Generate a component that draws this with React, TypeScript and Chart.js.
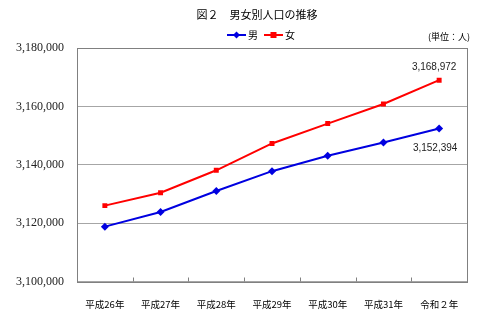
import React, { useEffect, useRef } from "react";
import { Chart, registerables } from "chart.js";

Chart.register(...registerables);

const categories = ["平成26年", "平成27年", "平成28年", "平成29年", "平成30年", "平成31年", "令和２年"];
const maleValues = [3118800, 3123800, 3131000, 3137800, 3143100, 3147600, 3152394];
const femaleValues = [3126000, 3130400, 3138100, 3147300, 3154100, 3160800, 3168972];
const seriesNames = ["男", "女"];
const yMin = 3100000;
const yMax = 3180000;
const yStep = 20000;
const titleText = "図２　男女別人口の推移";
const unitText = "(単位：人)";

const MALE_COLOR = "#0000E0";
const FEMALE_COLOR = "#FF0000";
const JP_FONT = "'Noto Sans CJK JP', sans-serif";

const decorPlugin = {
  id: "decor",
  afterDraw(chart: any) {
    const ctx = chart.ctx;
    const ca = chart.chartArea;
    ctx.save();
    // plot border
    ctx.strokeStyle = "#808080";
    ctx.lineWidth = 1;
    ctx.strokeRect(Math.round(ca.left) + 0.5, Math.round(ca.top) + 0.5, Math.round(ca.right - ca.left), Math.round(ca.bottom - ca.top));
    // inner tick marks between categories
    const n = categories.length;
    const w = (ca.right - ca.left) / n;
    ctx.beginPath();
    for (let i = 1; i < n; i++) {
      const x = Math.round(ca.left + i * w) + 0.5;
      ctx.moveTo(x, ca.bottom - 4);
      ctx.lineTo(x, ca.bottom);
    }
    ctx.stroke();

    // title
    ctx.fillStyle = "#000";
    ctx.textAlign = "center";
    ctx.textBaseline = "middle";
    ctx.font = `11px ${JP_FONT}`;
    ctx.fillText(titleText, 257, 15);

    // legend
    const items = [
      { name: seriesNames[0], color: MALE_COLOR, style: "diamond", x: 227 },
      { name: seriesNames[1], color: FEMALE_COLOR, style: "square", x: 264 },
    ];
    const ly = 35;
    items.forEach((it) => {
      ctx.strokeStyle = it.color;
      ctx.fillStyle = it.color;
      ctx.lineWidth = 2;
      ctx.beginPath();
      ctx.moveTo(it.x, ly);
      ctx.lineTo(it.x + 19, ly);
      ctx.stroke();
      const cx = it.x + 9.5;
      ctx.beginPath();
      if (it.style === "diamond") {
        ctx.moveTo(cx, ly - 3.5);
        ctx.lineTo(cx + 3.5, ly);
        ctx.lineTo(cx, ly + 3.5);
        ctx.lineTo(cx - 3.5, ly);
        ctx.closePath();
      } else {
        ctx.rect(cx - 3, ly - 3, 6, 6);
      }
      ctx.fill();
      ctx.fillStyle = "#000";
      ctx.font = `10px ${JP_FONT}`;
      ctx.textAlign = "left";
      ctx.fillText(it.name, it.x + 21, ly);
    });

    // unit
    ctx.font = `9px ${JP_FONT}`;
    ctx.textAlign = "right";
    ctx.fillStyle = "#000";
    ctx.fillText(unitText, 470, 37);

    // data labels on last points
    ctx.font = "10px 'Liberation Sans', Arial, sans-serif";
    ctx.textAlign = "center";
    ctx.fillStyle = "#222";
    const last = categories.length - 1;
    const fMeta = chart.getDatasetMeta(1);
    const mMeta = chart.getDatasetMeta(0);
    const fp = fMeta.data[last];
    const mp = mMeta.data[last];
    ctx.fillText(femaleValues[last].toLocaleString("en-US"), fp.x - 5, fp.y - 13);
    ctx.fillText(maleValues[last].toLocaleString("en-US"), mp.x - 4, mp.y + 20);
    ctx.restore();
  },
};

export default function App() {
  const ref = useRef<HTMLCanvasElement | null>(null);
  useEffect(() => {
    if (!ref.current) return;
    const chart = new Chart(ref.current, {
      type: "line",
      data: {
        labels: categories,
        datasets: [
          {
            label: seriesNames[0],
            data: maleValues,
            borderColor: MALE_COLOR,
            backgroundColor: MALE_COLOR,
            borderWidth: 2,
            pointStyle: "rectRot",
            pointRadius: 4,
            pointBorderWidth: 0,
            tension: 0,
          },
          {
            label: seriesNames[1],
            data: femaleValues,
            borderColor: FEMALE_COLOR,
            backgroundColor: FEMALE_COLOR,
            borderWidth: 2,
            pointStyle: "rect",
            pointRadius: 3.5,
            pointBorderWidth: 0,
            tension: 0,
          },
        ],
      },
      options: {
        responsive: false,
        animation: false,
        devicePixelRatio: 1,
        layout: { padding: { top: 48, right: 13, left: 0, bottom: 0 } },
        plugins: {
          legend: { display: false },
          title: { display: false },
          tooltip: { enabled: false },
        },
        scales: {
          x: {
            offset: true,
            grid: { display: false },
            border: { display: false },
            ticks: {
              color: "#000",
              padding: 9,
              maxRotation: 0,
              font: { family: "'Noto Sans CJK JP', sans-serif", size: 9.5 },
            },
            afterFit: (s: any) => {
              s.height = 30.5;
            },
          },
          y: {
            min: yMin,
            max: yMax,
            grid: { color: "#A6A6A6", drawTicks: false, lineWidth: 1 },
            border: { display: false },
            ticks: {
              stepSize: yStep,
              color: "#222",
              padding: 13,
              font: { family: "'Liberation Serif', serif", size: 12 },
              callback: (v: any) => Number(v).toLocaleString("en-US"),
            },
            afterFit: (s: any) => {
              s.width = 77;
            },
          },
        },
      },
      plugins: [decorPlugin],
    } as any);
    return () => chart.destroy();
  }, []);
  return (
    <div style={{ position: "fixed", left: 0, top: 0, width: 480, height: 312, background: "#fff" }}>
      <canvas ref={ref} width={480} height={312} style={{ display: "block", width: 480, height: 312 }} />
    </div>
  );
}
